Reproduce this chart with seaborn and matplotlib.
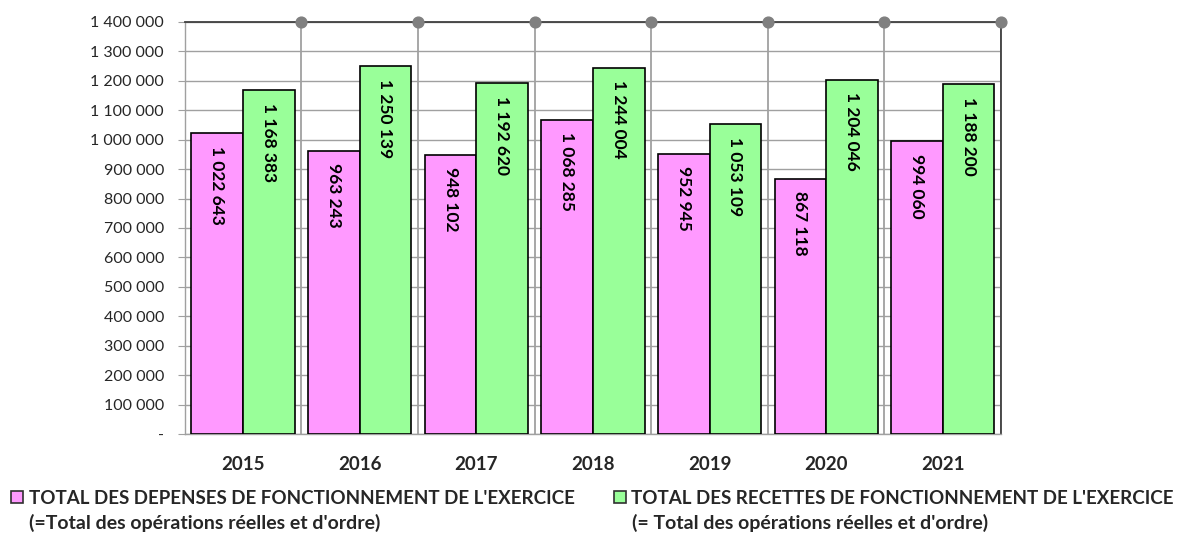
import numpy as np
import pandas as pd
import matplotlib
matplotlib.use("Agg")
import matplotlib.pyplot as plt
import seaborn as sns
from matplotlib.lines import Line2D

# ------------------------------------------------------------
# Data
# ------------------------------------------------------------
years = ["2015", "2016", "2017", "2018", "2019", "2020", "2021"]
depenses = [1022643, 963243, 948102, 1068285, 952945, 867118, 994060]
recettes = [1168383, 1250139, 1192620, 1244004, 1053109, 1204046, 1188200]

label_dep = "TOTAL DES DEPENSES DE FONCTIONNEMENT DE L'EXERCICE"
label_rec = "TOTAL DES RECETTES DE FONCTIONNEMENT DE L'EXERCICE"
sub_dep = "(=Total des opérations réelles et d'ordre)"
sub_rec = "(= Total des opérations réelles et d'ordre)"

df = pd.DataFrame({
    "annee": years * 2,
    "montant": depenses + recettes,
    "serie": [label_dep] * len(years) + [label_rec] * len(years),
})

colors = {label_dep: "#FF99FF", label_rec: "#99FF99"}

sns.set_style("white")
plt.rcParams["font.family"] = ["Lato", "DejaVu Sans"]

W, H = 1177, 535
fig = plt.figure(figsize=(W / 100, H / 100), dpi=100)
ax = fig.add_axes([0.157, 0.1888, 0.6935, 0.7701])

sns.barplot(
    data=df, x="annee", y="montant", hue="serie",
    palette=colors, saturation=1, width=0.885,
    edgecolor="black", linewidth=1.2,
    ax=ax, legend=False, zorder=3,
)


def fmt(v):
    return f"{v:,.0f}".replace(",", " ")


# value labels, rotated inside bars
for cont in ax.containers:
    for bar in cont:
        h = bar.get_height()
        ax.annotate(
            fmt(h),
            (bar.get_x() + bar.get_width() / 2, h),
            xytext=(0, -9), textcoords="offset points",
            rotation=270, ha="center", va="top",
            fontsize=12.5, fontweight="bold", color="black", zorder=5,
        )

# axes limits and grid
n = len(years)
ax.set_xlim(-0.5, n - 0.5)
ax.set_ylim(0, 1400000)
ax.set_yticks(np.arange(0, 1400001, 100000))
ax.set_yticklabels(["-"] + [fmt(v) for v in range(100000, 1400001, 100000)])
ax.yaxis.grid(True, color="#A0A0A0", linewidth=1, zorder=0)
ax.set_axisbelow(True)

bounds = np.arange(n) + 0.5
for b in bounds:
    ax.axvline(b, color="#A0A0A0", linewidth=1.3, zorder=1)
ax.scatter(bounds, [1400000] * n, s=60, color="#808080", zorder=6, clip_on=False)

ax.set_xticks(np.arange(n))
ax.set_xticks(np.arange(-0.5, n, 1), minor=True)
ax.tick_params(axis="x", which="major", length=0, pad=16, labelsize=13.5)
ax.tick_params(axis="x", which="minor", length=6, color="#A0A0A0", width=1)
for t in ax.get_xticklabels():
    t.set_fontweight("bold")
ax.tick_params(axis="y", length=5, color="#A0A0A0", labelsize=11.5, pad=10, left=True)

ax.set_xlabel("")
ax.set_ylabel("")

for side in ["top", "right"]:
    ax.spines[side].set_color("#404040")
    ax.spines[side].set_linewidth(1.3)
for side in ["left", "bottom"]:
    ax.spines[side].set_color("#A0A0A0")
    ax.spines[side].set_linewidth(1)

# legend below chart: one legend per series, second line as plain text
entries = [
    (label_dep, sub_dep, 11.5, 29),
    (label_rec, sub_rec, 614, 632),
]
for lab, sub, x_handle, x_text in entries:
    handle = Line2D([0], [0], marker="s", linestyle="none", markersize=8,
                    markerfacecolor=colors[lab], markeredgecolor="#303030",
                    markeredgewidth=1.2)
    fig.legend(
        [handle], [lab], loc="center left",
        bbox_to_anchor=(x_handle / W, 1 - 498 / H), frameon=False,
        prop={"weight": "bold", "size": 13.5},
        handlelength=0.6, handletextpad=0.33,
        borderpad=0, borderaxespad=0,
    )
    fig.text(x_text / W, 1 - 523 / H, sub, fontsize=14, fontweight="bold",
             va="center", ha="left")

plt.savefig("out.png", dpi=100)
plt.close()
